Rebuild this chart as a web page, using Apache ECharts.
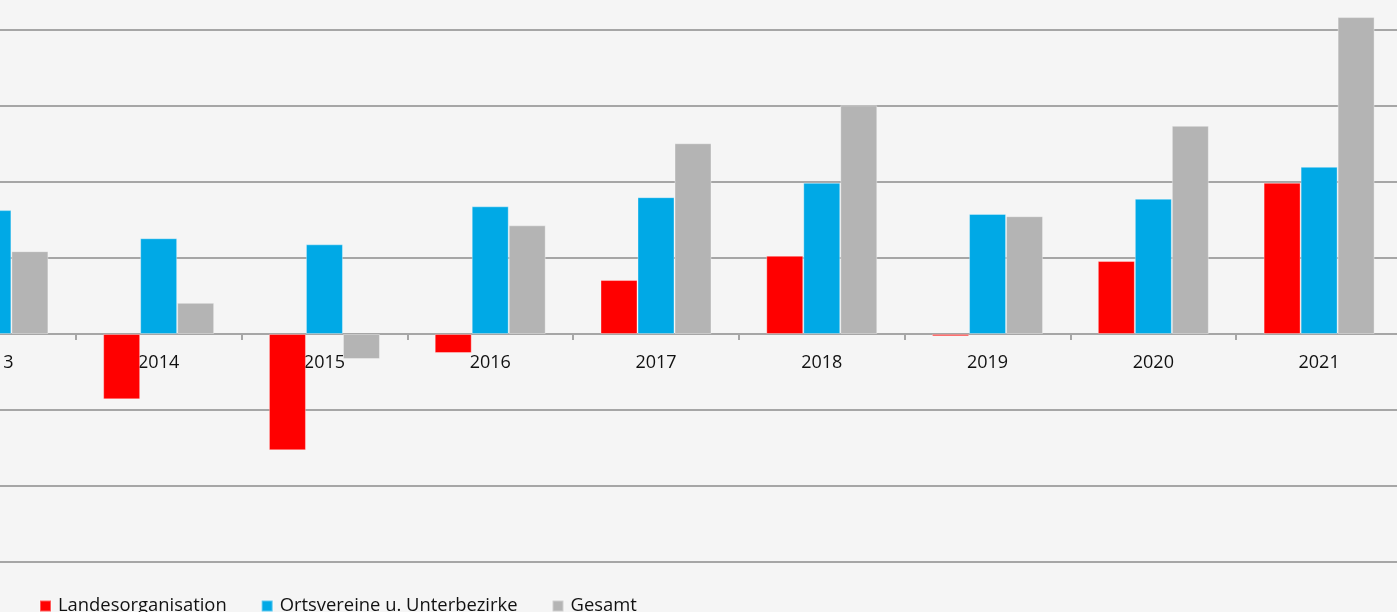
<!DOCTYPE html>
<html>
<head>
<meta charset="utf-8">
<script src="https://cdn.jsdelivr.net/npm/echarts@6/dist/echarts.min.js"></script>
<style>
	html, body { margin: 0; padding: 0; background: #f5f5f5; overflow: hidden; width: 1397px; height: 612px; position: relative; }
	/* the reference is a crop of a bigger chart, so the chart sits partly off screen */
	#chart { position: absolute; left: -99px; top: -59px; width: 1520px; height: 700px; }
</style>
</head>
<body>
<div id="chart"></div>
<script>
const years = ["2013", "2014", "2015", "2016", "2017", "2018", "2019", "2020", "2021"]
const landesorganisation = [-54, -86, -153, -25, 71, 103, -3, 96, 199]
const ortsvereine = [163, 126, 118, 168, 180, 199, 158, 178, 220]
const gesamt = [109, 41, -33, 143, 251, 301, 155, 274, 417]

const chart = echarts.init(document.getElementById("chart"))

const barStyle = (color) => ({
	color: color,
	borderColor: "rgba(255,255,255,0.35)",
	borderWidth: 1,
})

const options = {
	backgroundColor: "#f5f5f5",
	animation: false,
	grid: {
		top: 13,
		bottom: 79,
		left: 9,
		right: 19,
		containLabel: false,
	},
	legend: {
		top: 651,
		left: 133,
		itemWidth: 11,
		itemHeight: 11,
		itemGap: 34,
		icon: "rect",
		textStyle: {
			fontFamily: "Open Sans",
			fontSize: 18.4,
			color: "#111",
			padding: [0, 0, 0, 2],
		},
		data: ["Landesorganisation", "Ortsvereine u. Unterbezirke", "Gesamt"],
	},
	xAxis: {
		type: "category",
		data: years,
		axisLine: { onZero: true, lineStyle: { color: "#a6a6a6", width: 2 } },
		axisTick: { show: true, length: 6, lineStyle: { color: "#a6a6a6", width: 2 } },
		axisLabel: {
			fontFamily: "Open Sans",
			fontSize: 18,
			color: "#111",
			margin: -208,
		},
	},
	yAxis: {
		type: "value",
		min: -300,
		max: 500,
		interval: 100,
		axisLabel: { show: false },
		axisLine: { show: false },
		axisTick: { show: false },
		splitLine: { lineStyle: { color: "#a6a6a6", width: 2 } },
	},
	series: [
		{
			name: "Landesorganisation",
			type: "bar",
			barWidth: 37,
			barGap: "0%",
			itemStyle: barStyle("#ff0000"),
			data: landesorganisation,
		},
		{
			name: "Ortsvereine u. Unterbezirke",
			type: "bar",
			barWidth: 37,
			barGap: "0%",
			itemStyle: barStyle("#00a9e6"),
			data: ortsvereine,
		},
		{
			name: "Gesamt",
			type: "bar",
			barWidth: 37,
			barGap: "0%",
			itemStyle: barStyle("#b4b4b4"),
			data: gesamt,
		},
	],
}

chart.setOption(options)
</script>
</body>
</html>
